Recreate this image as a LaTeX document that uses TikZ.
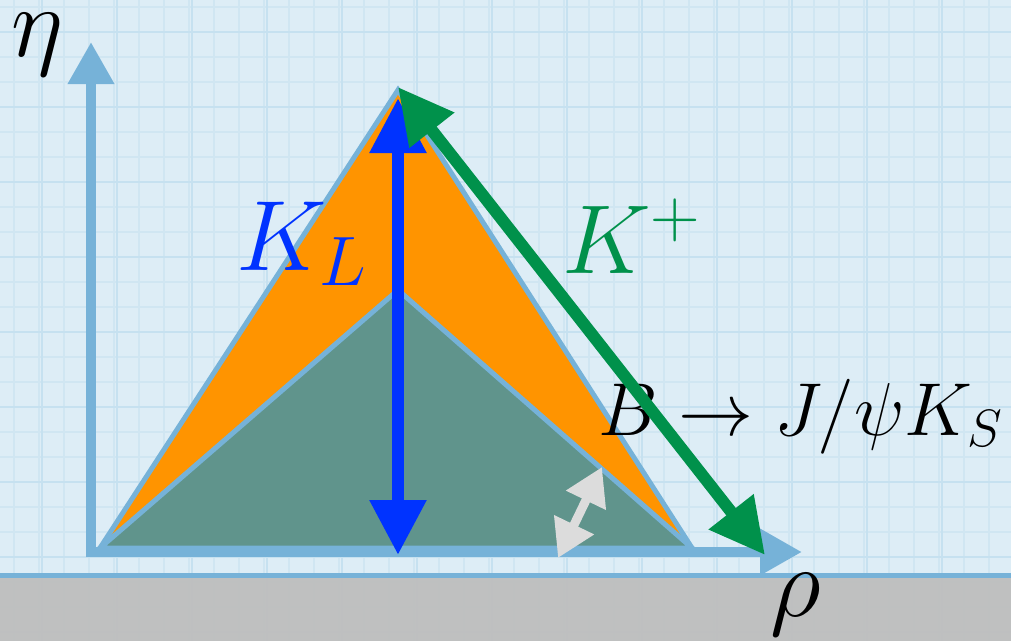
\documentclass[tikz,border=0pt]{standalone}
\usepackage{fix-cm}
\usetikzlibrary{arrows.meta}
\definecolor{bgblue}{RGB}{221,237,246}
\definecolor{gridblue}{RGB}{208,230,242}
\definecolor{gridmajor}{RGB}{198,225,240}
\definecolor{axisblue}{RGB}{118,178,216}
\definecolor{triorange}{RGB}{255,148,0}
\definecolor{triteal}{RGB}{96,148,140}
\definecolor{arrblue}{RGB}{0,51,255}
\definecolor{arrgreen}{RGB}{0,145,75}
\definecolor{arrwhite}{RGB}{220,220,220}
\definecolor{graybg}{RGB}{190,190,190}
\begin{document}
\begin{tikzpicture}[x=1pt,y=-1pt,
  axisline/.style={draw=axisblue, line width=10pt, -{Triangle[length=42pt,width=44pt]}},
  trishape/.style={draw=axisblue, line width=5pt, line join=miter},
  bigarrow/.style={line width=12pt, {Triangle[length=55pt,width=54pt]}-{Triangle[length=55pt,width=54pt]}},
  smallarrow/.style={draw=arrwhite, line width=9pt, {Triangle[length=37pt,width=42pt]}-{Triangle[length=37pt,width=42pt]}},
  lbl/.style={inner sep=0pt, anchor=base west}]
\useasboundingbox (0,0) rectangle (1011,641);
% background and grid
\fill[bgblue] (0,0) rectangle (1011,641);
\foreach \x in {14,39,...,1011} \draw[gridblue, line width=1.6pt] (\x,0) -- (\x,641);
\foreach \y in {7,32,...,641} \draw[gridblue, line width=1.6pt] (0,\y) -- (1011,\y);
\foreach \x in {42,117,...,1011} \draw[gridmajor, line width=2pt] (\x,0) -- (\x,641);
\foreach \y in {32,107,...,641} \draw[gridmajor, line width=2pt] (0,\y) -- (1011,\y);
\fill[graybg, opacity=0.95] (0,577) rectangle (1011,641);
\draw[axisblue, line width=5pt] (0,575) -- (1011,575);
% triangles
\coordinate (A) at (100,548);
\coordinate (T) at (398,90);
\coordinate (C) at (692,548);
\coordinate (Ti) at (398,290);
\filldraw[trishape, fill=triorange] (A) -- (T) -- (C) -- cycle;
\filldraw[trishape, fill=triteal] (A) -- (Ti) -- (C) -- cycle;
% axes
\coordinate (Ystart) at (91,557);
\coordinate (Yend) at (91,42);
\coordinate (Xstart) at (86,552);
\coordinate (Xend) at (802,552);
\draw[axisline] (Ystart) -- (Yend);
\draw[axisline] (Xstart) -- (Xend);
% labels
\node[lbl, font=\fontsize{100}{100}\selectfont] (eta) at (11,56) {$\eta$};
\node[lbl, font=\fontsize{100}{100}\selectfont] (rho) at (770,616) {$\rho$};
\node[lbl, font=\fontsize{100}{100}\selectfont, text=arrblue] (KL) at (236,270) {$K_L$};
\node[lbl, font=\fontsize{98}{100}\selectfont, text=arrgreen] (Kp) at (562,273) {$K^+$};
\node[lbl, font=\fontsize{75}{80}\selectfont] (B) at (598,435) {$B\rightarrow J/\psi K_S$};
% arrows
\coordinate (Bb) at (398,555);
\coordinate (Bt) at (398,98);
\draw[bigarrow, draw=arrblue, fill=arrblue] (Bb) -- (Bt);
\coordinate (Gt) at (398,87);
\coordinate (Gb) at (765,555);
\draw[bigarrow, draw=arrgreen, fill=arrgreen] (Gt) -- (Gb);
\coordinate (Wb) at (558,558);
\coordinate (Wt) at (602,467);
\draw[smallarrow, fill=arrwhite] (Wb) -- (Wt);
\end{tikzpicture}
\end{document}
